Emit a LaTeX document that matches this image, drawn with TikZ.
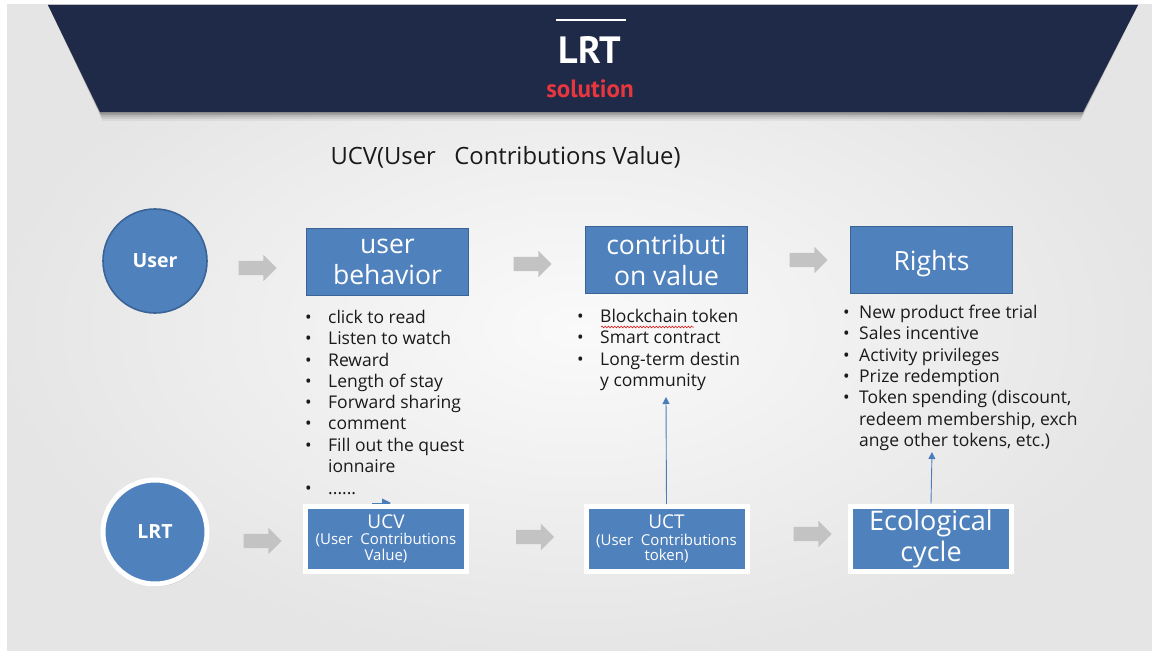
\documentclass[tikz,border=0pt]{standalone}
\usepackage{fontspec}
\setmainfont{Open Sans}
\newfontfamily\titlefont{PT Sans}
\usetikzlibrary{shadows,arrows.meta,shapes.arrows,decorations.pathmorphing}

\definecolor{boxblue}{HTML}{4F81BD}
\definecolor{boxedge}{HTML}{3A6496}
\definecolor{navy}{HTML}{1F2A48}
\definecolor{arrowgray}{HTML}{C3C3C3}
\definecolor{titlered}{HTML}{E8363F}
\definecolor{linkblue}{HTML}{4A7EBB}
\definecolor{bodytext}{HTML}{1A1A1A}

% one bullet line; \cont indents a wrapped continuation line
\newlength\bulletgap
\newcommand\bitem[1]{\makebox[\bulletgap][l]{\textbullet}#1}
\newcommand\cont[1]{\hspace*{\bulletgap}#1}

\tikzset{
  x=1pt, y=-1pt,
  topbox/.style={draw=boxedge, line width=1.6pt, fill=boxblue, text=white,
    minimum width=162pt, minimum height=67pt, inner sep=0pt, align=center,
    font=\fontsize{26.5}{31.5}\selectfont},
  framebox/.style={draw=white, line width=5pt, fill=boxblue, text=white,
    minimum width=161pt, minimum height=65pt, inner sep=0pt, align=center,
    drop shadow={opacity=0.4, shadow xshift=1.5pt, shadow yshift=-2.5pt}},
  actor/.style={circle, fill=boxblue, text=white, minimum size=104pt,
    inner sep=0pt, font=\fontsize{19.5}{22}\selectfont\bfseries},
  garrow/.style={single arrow, fill=arrowgray, draw=none, minimum height=38pt,
    inner xsep=0pt, inner ysep=7pt, single arrow head extend=6pt,
    single arrow head indent=0pt},
  bulletlist/.style={anchor=north west, inner sep=0pt, align=left,
    text=bodytext, font=\fontsize{17.5}{21.3}\selectfont},
  uplink/.style={draw=linkblue, line width=0.9pt,
    -{Triangle[length=7pt,width=7pt]}},
  small/.style={font=\fontsize{15}{15.5}\selectfont},
}

\begin{document}
\begin{tikzpicture}
\useasboundingbox (0,0) rectangle (1152,655);

% page and slide backdrop
\fill[white] (0,0) rectangle (1152,655);
\shade[inner color=gray!4, outer color=gray!20] (7,5) rectangle (1152,650);

% header banner with soft shadow
\foreach \d/\o in {9/0.05,7/0.07,5/0.09,3/0.12,1.5/0.15}
  \fill[black, opacity=\o] (48,5) -- (100+\d*0.3,112+\d) -- (1083-\d*0.3,112+\d) -- (1138,5) -- cycle;
\fill[navy] (48,5) -- (100,112) -- (1083,112) -- (1138,5) -- cycle;
\draw[white, line width=1.6pt] (556,20) -- (626,20);
\node[text=white, font=\titlefont\fontsize{38}{40}\selectfont\bfseries] (title) at (590,50) {LRT};
\node[text=titlered, font=\titlefont\fontsize{25}{27}\selectfont\bfseries] (subtitle) at (590,89) {solution};

% heading
\node[anchor=west, text=bodytext, font=\fontsize{23.8}{27}\selectfont] (heading) at (327,157)
  {UCV(User\ \ \ Contributions Value)};

% actors
\node[actor, draw=boxedge, line width=1.6pt] (user) at (155,261) {User};
\node[actor, draw=white, line width=5pt,
      drop shadow={opacity=0.4, shadow xshift=1.5pt, shadow yshift=-2.5pt}] (lrt) at (155,532) {LRT};

% upper row
\node[topbox] (behavior) at (387.5,262) {user\\behavior};
\node[topbox] (value) at (666.5,260) {contributi\\on value};
\node[topbox, text depth=0pt] (rights) at (931.5,260) {Rights};

\node[garrow] (ga1) at (254,268) {};
\node[garrow] (ga2) at (529,264) {};
\node[garrow] (ga3) at (805,260) {};

% lists under the upper row
\setlength\bulletgap{23pt}
\node[bulletlist] (behavelist) at (305,310) {%
  \bitem{click to read}\\
  \bitem{Listen to watch}\\
  \bitem{Reward}\\
  \bitem{Length of stay}\\
  \bitem{Forward sharing}\\
  \bitem{comment}\\
  \bitem{Fill out the quest}\\
  \cont{ionnaire}\\[1pt]
  \bitem{......}};
\node[bulletlist] (valuelist) at (577,309) {%
  \bitem{Blockchain token}\\
  \bitem{Smart contract}\\
  \bitem{Long-term destin}\\
  \cont{y community}};
\setlength\bulletgap{16pt}
\node[bulletlist] (rightslist) at (843,305) {%
  \bitem{New product free trial}\\
  \bitem{Sales incentive}\\
  \bitem{Activity privileges}\\
  \bitem{Prize redemption}\\
  \bitem{Token spending (discount,}\\
  \cont{redeem membership, exch}\\
  \cont{ange other tokens, etc.)}};

% spell-check underline
\draw[red!85!black, line width=0.5pt, decorate,
      decoration={snake, amplitude=0.9pt, segment length=3.2pt}]
  (601,327) -- (694,327);

% arrow reaching the UCV frame
\coordinate (ucvfrom) at (372,503);
\coordinate (ucvto) at (391,503);
\draw[draw=linkblue, line width=0.9pt, -{Triangle[length=9pt,width=9pt]}] (ucvfrom) -- (ucvto);

% lower row
\node[framebox, small] (ucv) at (386,538.5) {%
  {\fontsize{19}{20}\selectfont UCV}\\[1pt]
  (User\ \ Contributions\\
  Value)};
\node[framebox, small] (uct) at (666.5,539) {%
  {\fontsize{19}{20}\selectfont UCT}\\[1pt]
  (User\ \ Contributions\\
  token)};
\node[framebox, font=\fontsize{27}{31}\selectfont] (eco) at (931,538.5) {Ecological\\cycle};

\node[garrow] (gb1) at (259,541) {};
\node[garrow] (gb2) at (531.5,537) {};
\node[garrow] (gb3) at (809,534) {};

% links from the lower row up to the lists
\coordinate (valuetip) at (666,397);
\coordinate (rightstip) at (932,452);
\draw[uplink] (uct.north) -- (valuetip);
\draw[uplink] (eco.north) -- (rightstip);
\end{tikzpicture}
\end{document}
